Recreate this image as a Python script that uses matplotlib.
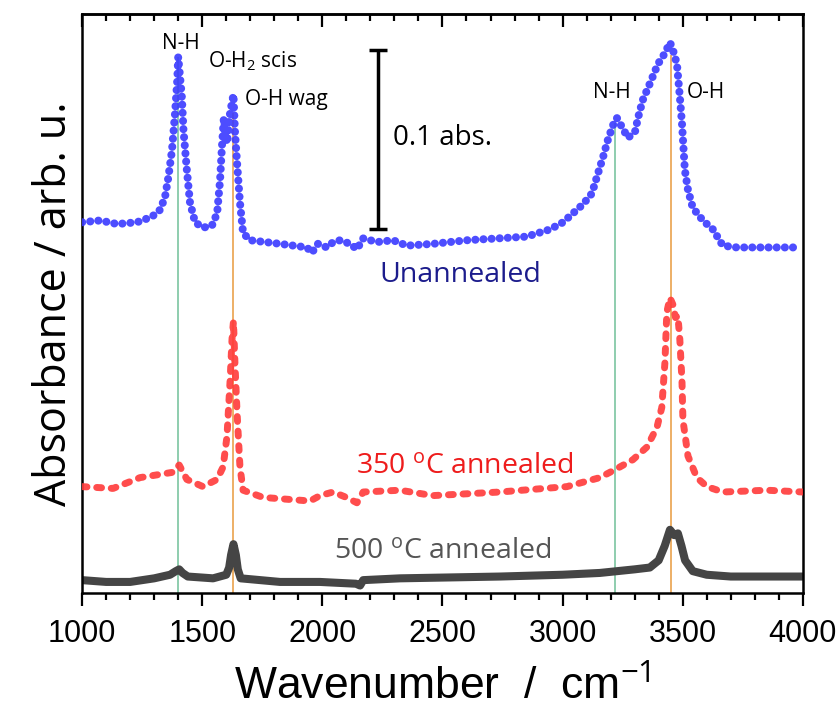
import matplotlib
matplotlib.use('Agg')
import matplotlib.pyplot as plt
from matplotlib.ticker import MultipleLocator

plt.rcParams['font.family'] = ['Open Sans', 'DejaVu Sans']
plt.rcParams['mathtext.fontset'] = 'custom'
plt.rcParams['mathtext.rm'] = 'Open Sans'
plt.rcParams['mathtext.it'] = 'Open Sans'

# Unannealed (blue, dotted)
wn_blue = [1000, 1075, 1146, 1228, 1290, 1325, 1345, 1359, 1374, 1387, 1396, 1400,
           1415, 1422, 1436, 1449, 1470, 1503, 1540, 1562, 1574, 1582, 1590, 1603,
           1616, 1630, 1636, 1645, 1657, 1670, 1699, 1824, 1936, 1956, 1982, 2019,
           2045, 2074, 2115, 2144, 2170, 2228, 2294, 2352, 2460, 2602, 2727, 2850,
           2947, 3002, 3085, 3122, 3147, 3168, 3189, 3210, 3226, 3247, 3272, 3301,
           3314, 3334, 3363, 3397, 3426, 3447, 3459, 3476, 3488, 3497, 3509, 3522,
           3542, 3584, 3626, 3667, 3725, 3850, 3975]
abs_blue = [0.206, 0.207, 0.205, 0.206, 0.209, 0.213, 0.220, 0.231, 0.246, 0.267, 0.285, 0.298,
            0.276, 0.257, 0.235, 0.217, 0.206, 0.203, 0.204, 0.211, 0.229, 0.248, 0.264, 0.250,
            0.267, 0.277, 0.257, 0.239, 0.217, 0.200, 0.196, 0.194, 0.192, 0.189, 0.194, 0.192,
            0.195, 0.196, 0.194, 0.191, 0.197, 0.195, 0.196, 0.193, 0.194, 0.196, 0.197, 0.198,
            0.202, 0.206, 0.216, 0.222, 0.233, 0.242, 0.252, 0.260, 0.264, 0.259, 0.253, 0.256,
            0.264, 0.274, 0.283, 0.294, 0.300, 0.306, 0.302, 0.294, 0.276, 0.261, 0.235, 0.224,
            0.214, 0.207, 0.202, 0.193, 0.192, 0.192, 0.192]

# 350 C annealed (red, dashed)
wn_red = [1000, 1129, 1241, 1379, 1404, 1436, 1503, 1562, 1587, 1603, 1616, 1624, 1630,
          1636, 1645, 1657, 1670, 1753, 1949, 1990, 2045, 2100, 2144, 2170, 2323, 2460,
          2739, 3018, 3155, 3226, 3293, 3351, 3393, 3413, 3426, 3434, 3447, 3460, 3470,
          3480, 3488, 3497, 3501, 3522, 3559, 3601, 3667, 3850, 4000]
abs_red = [0.059, 0.058, 0.064, 0.067, 0.071, 0.063, 0.059, 0.063, 0.070, 0.087, 0.118, 0.141, 0.151,
           0.128, 0.100, 0.070, 0.057, 0.053, 0.051, 0.054, 0.056, 0.053, 0.050, 0.056, 0.057, 0.054,
           0.056, 0.059, 0.064, 0.069, 0.074, 0.081, 0.092, 0.103, 0.128, 0.156, 0.164, 0.160, 0.153,
           0.154, 0.141, 0.118, 0.096, 0.076, 0.064, 0.059, 0.056, 0.057, 0.056]

# 500 C annealed (grey, solid)
wn_grey = [1000, 1100, 1200, 1300, 1366, 1390, 1404, 1418, 1440, 1545, 1600, 1612, 1620, 1630,
           1640, 1648, 1660, 1824, 1990, 2140, 2157, 2170, 2323, 2739, 3000, 3155, 3300, 3363,
           3400, 3425, 3447, 3465, 3480, 3495, 3510, 3542, 3600, 3700, 4000]
abs_grey = [0.007, 0.006, 0.006, 0.008, 0.010, 0.012, 0.013, 0.011, 0.009, 0.008, 0.010, 0.014,
            0.021, 0.027, 0.021, 0.013, 0.008, 0.006, 0.006, 0.005, 0.004, 0.007, 0.008, 0.009,
            0.010, 0.011, 0.013, 0.014, 0.018, 0.026, 0.035, 0.032, 0.033, 0.026, 0.018, 0.012,
            0.010, 0.009, 0.009]

# marker lines: (wavenumber, top)
nh_lines = [1400, 3220]
nh_tops = [0.298, 0.261]
oh_lines = [1630, 3450]
oh_tops = [0.267, 0.299]

fig = plt.figure(figsize=(8.38, 7.09), dpi=100)
ax = fig.add_axes([0.098, 0.164, 0.860, 0.816])

ax.vlines(nh_lines, 0, nh_tops, color='#86c9a8', lw=1.3, zorder=1)
ax.vlines(oh_lines, 0, oh_tops, color='#eca95a', lw=1.3, zorder=1)

ax.plot(wn_grey, abs_grey, color='#454545', lw=5.8, solid_capstyle='round',
        solid_joinstyle='round', zorder=2)
ax.plot(wn_red, abs_red, color='#ff3a3a', alpha=0.9, lw=5,
        linestyle=(0, (0.7, 1.4)), dash_capstyle='round', zorder=3)
ax.plot(wn_blue, abs_blue, color='#3a3aff', alpha=0.9, lw=5.8,
        linestyle=(0, (0.01, 1.0)), dash_capstyle='round', zorder=4)

# scale bar 0.1 abs
ax.errorbar([2232], [0.252], yerr=[0.05], color='black', lw=2.5, capsize=6.5, capthick=2.5)
ax.text(2294, 0.2528, '0.1 abs.', fontsize=20, ha='left', va='center')

ax.text(1412, 0.3056, 'N-H', fontsize=15, ha='center', va='center')
ax.text(1524, 0.2955, 'O-H$_2$ scis', fontsize=15, ha='left', va='center')
ax.text(1678, 0.2744, 'O-H wag', fontsize=15, ha='left', va='center')
ax.text(3205, 0.2783, 'N-H', fontsize=15, ha='center', va='center')
ax.text(3597, 0.2783, 'O-H', fontsize=15, ha='center', va='center')

ax.text(2573, 0.1767, 'Unannealed', fontsize=20.5, color='#1c1c8c', ha='center', va='center')
ax.text(2594, 0.0700, '350 $^{\\mathrm{o}}$C annealed', fontsize=20.5, color='#ee1c1c',
        ha='center', va='center')
ax.text(2502, 0.0228, '500 $^{\\mathrm{o}}$C annealed', fontsize=20.5, color='#555555',
        ha='center', va='center')

ax.set_xlim(1000, 4000)
ax.set_ylim(0, 0.3217)
ax.set_yticks([])
ax.xaxis.set_major_locator(MultipleLocator(500))
ax.xaxis.set_minor_locator(MultipleLocator(100))
ax.tick_params(axis='x', which='both', width=1.6, direction='out')
ax.tick_params(axis='x', which='major', length=9, labelsize=22, pad=10)
ax.tick_params(axis='x', which='minor', length=5)
for lbl in ax.get_xticklabels():
    lbl.set_family(['Liberation Sans', 'DejaVu Sans'])
for sp in ax.spines.values():
    sp.set_linewidth(1.8)

top = ax.secondary_xaxis('top')
top.xaxis.set_major_locator(MultipleLocator(500))
top.xaxis.set_minor_locator(MultipleLocator(100))
top.tick_params(axis='x', which='both', direction='in', width=1.6, labeltop=False)
top.tick_params(axis='x', which='major', length=9)
top.tick_params(axis='x', which='minor', length=5)
top.spines['top'].set_linewidth(1.8)

ax.set_xlabel('Wavenumber  /  cm$^{-1}$', fontsize=32,
              family=['Liberation Sans', 'DejaVu Sans'], labelpad=12)
ax.set_ylabel('Absorbance / arb. u.', fontsize=31, labelpad=4)

fig.savefig('out.png', dpi=100)
